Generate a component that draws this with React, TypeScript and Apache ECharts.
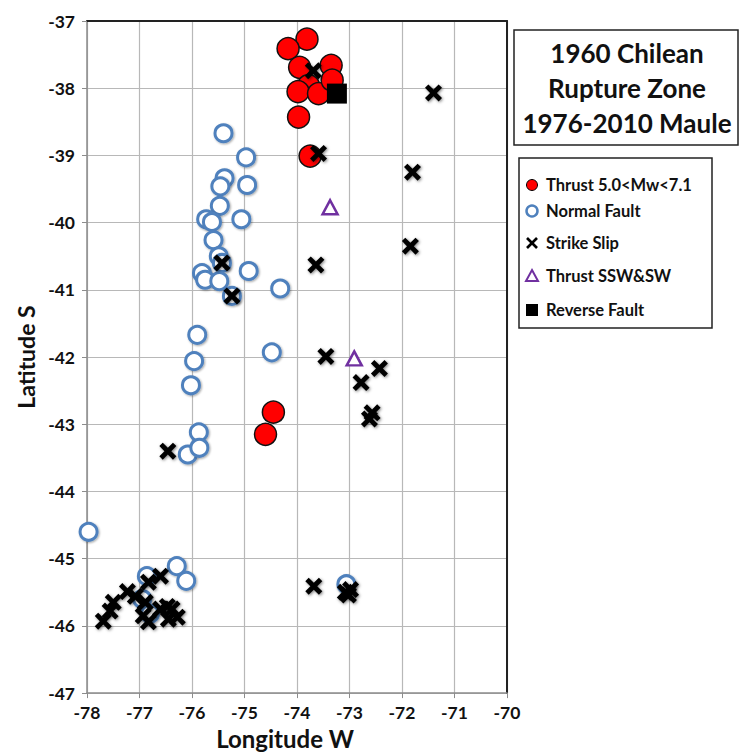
import React, { useEffect, useRef } from "react";
import * as echarts from "echarts";

const thrustMw: number[][] = [
  [-73.81, -37.27], [-74.17, -37.41], [-73.95, -37.69], [-73.35, -37.66],
  [-73.78, -37.96], [-73.98, -38.05], [-73.59, -38.08], [-73.33, -37.88],
  [-73.97, -38.43], [-73.75, -39.01], [-74.45, -42.82], [-74.60, -43.15],
];

const normalFault: number[][] = [
  [-75.40, -38.67], [-74.97, -39.03], [-75.38, -39.34], [-75.46, -39.46],
  [-74.95, -39.44], [-75.47, -39.75], [-75.73, -39.95], [-75.62, -39.99],
  [-75.06, -39.95], [-75.59, -40.26], [-75.49, -40.50], [-75.43, -40.60],
  [-74.92, -40.72], [-75.81, -40.75], [-75.75, -40.85], [-75.48, -40.87],
  [-75.24, -41.09], [-74.32, -40.98], [-75.90, -41.67], [-75.96, -42.06],
  [-76.02, -42.42], [-74.48, -41.93], [-75.87, -43.12], [-76.08, -43.45],
  [-75.86, -43.35], [-77.97, -44.60], [-76.29, -45.11], [-76.11, -45.33],
  [-76.86, -45.26], [-76.95, -45.60], [-76.80, -45.82], [-73.06, -45.38],
];

const strikeSlip: number[][] = [
  [-73.69, -37.74], [-73.59, -38.97], [-71.40, -38.07], [-71.80, -39.25],
  [-71.84, -40.35], [-73.64, -40.63], [-75.43, -40.60], [-75.24, -41.09],
  [-73.45, -41.99], [-72.43, -42.17], [-72.78, -42.38], [-72.57, -42.83],
  [-72.62, -42.92], [-76.46, -43.40], [-73.68, -45.41], [-73.08, -45.50],
  [-72.98, -45.46], [-73.02, -45.54],
  [-77.69, -45.93], [-77.56, -45.78], [-77.50, -45.65], [-77.23, -45.49],
  [-77.08, -45.56], [-76.83, -45.35], [-76.60, -45.26], [-76.89, -45.65],
  [-76.83, -45.94], [-76.93, -45.85], [-76.60, -45.75], [-76.47, -45.71],
  [-76.38, -45.75], [-76.28, -45.87], [-76.45, -45.90],
];

const thrustSSW: number[][] = [
  [-73.37, -39.77], [-72.91, -42.02],
];

const reverseFault: number[][] = [
  [-73.24, -38.08],
];

const titleLines = ["1960 Chilean", "Rupture Zone", "1976-2010 Maule"];
const legendLabels = [
  "Thrust 5.0<Mw<7.1",
  "Normal Fault",
  "Strike Slip",
  "Thrust SSW&SW",
  "Reverse Fault",
];

const FONT = "Lato, 'Open Sans', sans-serif";
const CROSS =
  "path://M2,0 L5,3 L8,0 L10,2 L7,5 L10,8 L8,10 L5,7 L2,10 L0,8 L3,5 L0,2 Z";
const BLUE = "#4f81bd";
const PURPLE = "#7030a0";

export default function App() {
  const ref = useRef<HTMLDivElement>(null);
  useEffect(() => {
    if (!ref.current) return;
    const chart = echarts.init(ref.current, undefined, { renderer: "svg" });
    const legendY = [185, 211, 243, 276, 310];
    const cy = legendY[2];
    const legendMarkers: any[] = [
      { type: "circle", shape: { cx: 532, cy: legendY[0], r: 5.5 }, style: { fill: "#f00", stroke: "#000", lineWidth: 1 } },
      { type: "circle", shape: { cx: 532, cy: legendY[1], r: 5.5 }, style: { fill: "#fff", stroke: BLUE, lineWidth: 2.5 } },
      { type: "line", shape: { x1: 527, y1: cy - 5, x2: 537, y2: cy + 5 }, style: { stroke: "#000", lineWidth: 2.6 } },
      { type: "line", shape: { x1: 537, y1: cy - 5, x2: 527, y2: cy + 5 }, style: { stroke: "#000", lineWidth: 2.6 } },
      { type: "polygon", shape: { points: [[532, legendY[3] - 6], [538, legendY[3] + 5], [526, legendY[3] + 5]] }, style: { fill: "#fff", stroke: PURPLE, lineWidth: 2 } },
      { type: "rect", shape: { x: 526, y: legendY[4] - 6, width: 12, height: 12 }, style: { fill: "#000" } },
    ];
    const option: any = {
      animation: false,
      backgroundColor: "#fff",
      grid: { left: 87, right: 233, top: 21, bottom: 56, containLabel: false },
      xAxis: [
        {
          type: "value", min: -78, max: -70, interval: 1,
          name: "Longitude W", nameLocation: "middle", nameGap: 32,
          nameTextStyle: { fontFamily: FONT, fontWeight: "bold", fontSize: 24, color: "#111", padding: [0, 24, 0, 0] },
          axisLine: { onZero: false, lineStyle: { color: "#8c8c8c", width: 1.5 } },
          axisTick: { show: true, length: 5, lineStyle: { color: "#8c8c8c" } },
          axisLabel: { fontFamily: FONT, fontWeight: "bold", fontSize: 17.5, color: "#111", margin: 10 },
          splitLine: { show: true, lineStyle: { color: "#b8b8b8", width: 1.2 } },
        },
        {
          type: "value", min: -78, max: -70, interval: 1, position: "top",
          axisLine: { onZero: false, lineStyle: { color: "#222", width: 2 } },
          axisTick: { show: false }, axisLabel: { show: false }, splitLine: { show: false },
        },
      ],
      yAxis: [
        {
          type: "value", min: -47, max: -37, interval: 1,
          name: "Latitude S", nameLocation: "middle", nameGap: 46,
          nameTextStyle: { fontFamily: FONT, fontWeight: "bold", fontSize: 23, color: "#111" },
          axisLine: { onZero: false, lineStyle: { color: "#8c8c8c", width: 1.5 } },
          axisTick: { show: true, length: 5, lineStyle: { color: "#8c8c8c" } },
          axisLabel: { fontFamily: FONT, fontWeight: "bold", fontSize: 17.5, color: "#111", margin: 12 },
          splitLine: { show: true, lineStyle: { color: "#b8b8b8", width: 1.2 } },
        },
        {
          type: "value", min: -47, max: -37, interval: 1, position: "right",
          axisLine: { onZero: false, lineStyle: { color: "#222", width: 2 } },
          axisTick: { show: false }, axisLabel: { show: false }, splitLine: { show: false },
        },
      ],
      series: [
        {
          name: legendLabels[1], type: "scatter", data: normalFault, symbol: "circle", symbolSize: 17,
          itemStyle: { color: "#fff", opacity: 1, borderColor: BLUE, borderWidth: 3, shadowBlur: 2, shadowColor: "rgba(0,0,0,0.35)", shadowOffsetX: 1, shadowOffsetY: 1 },
          z: 2,
        },
        {
          name: legendLabels[0], type: "scatter", data: thrustMw, symbol: "circle", symbolSize: 22,
          itemStyle: { color: "#f00", opacity: 1, borderColor: "#111", borderWidth: 1.5 },
          z: 3,
        },
        {
          name: legendLabels[2], type: "scatter", data: strikeSlip, symbol: CROSS, symbolSize: 17,
          itemStyle: { color: "#000", opacity: 1, shadowBlur: 3, shadowColor: "rgba(0,0,0,0.5)", shadowOffsetX: 1, shadowOffsetY: 1 },
          z: 4,
        },
        {
          name: legendLabels[3], type: "scatter", data: thrustSSW, symbol: "triangle", symbolSize: [15, 14],
          itemStyle: { color: "#fff", opacity: 1, borderColor: PURPLE, borderWidth: 2.5 },
          z: 5,
        },
        {
          name: legendLabels[4], type: "scatter", data: reverseFault, symbol: "rect", symbolSize: 20,
          itemStyle: { color: "#000", opacity: 1 },
          z: 6,
        },
      ],
      graphic: [
        { type: "rect", shape: { x: 514, y: 30, width: 224, height: 115 }, style: { fill: "#fff", stroke: "#222", lineWidth: 1.5 } },
        ...titleLines.map((t, i) => ({
          type: "text", x: 627, y: 53 + i * 35,
          style: { text: t, font: `bold 26px ${FONT}`, fill: "#111", align: "center", verticalAlign: "middle" },
        })),
        { type: "rect", shape: { x: 519, y: 158, width: 193, height: 170 }, style: { fill: "#fff", stroke: "#222", lineWidth: 1.5 } },
        ...legendMarkers,
        ...legendLabels.map((t, i) => ({
          type: "text", x: 546, y: legendY[i],
          style: { text: t, font: `bold 16.5px ${FONT}`, fill: "#111", align: "left", verticalAlign: "middle" },
        })),
      ],
    };
    chart.setOption(option);
    return () => chart.dispose();
  }, []);
  return (
    <div
      ref={ref}
      style={{ position: "fixed", left: 0, top: 0, width: 740, height: 755 }}
    />
  );
}
